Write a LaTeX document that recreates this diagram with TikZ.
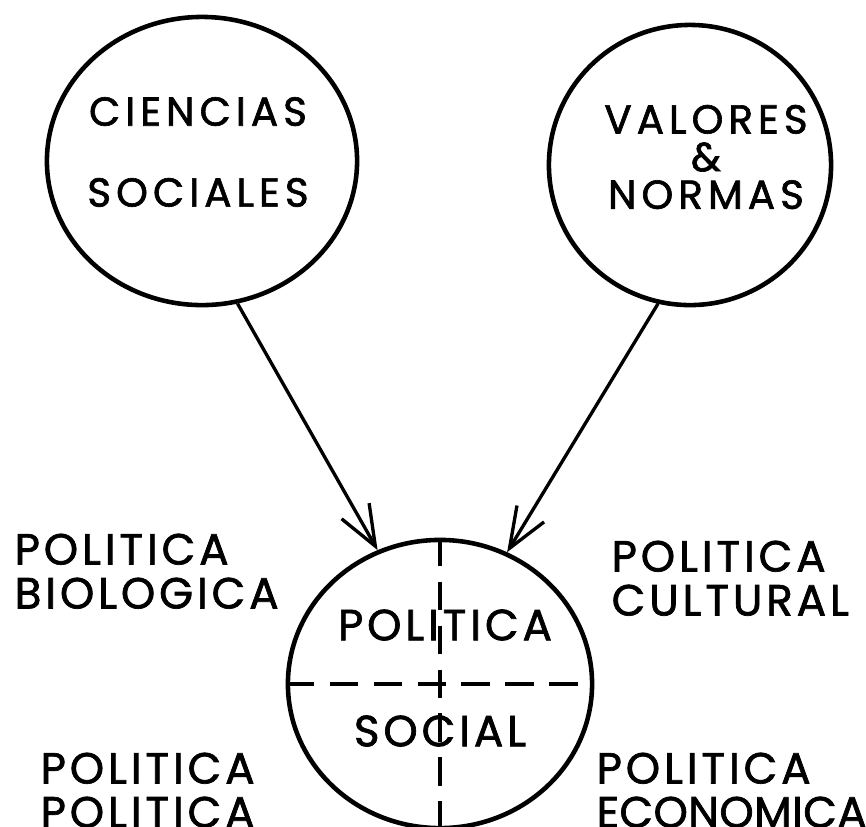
\documentclass[tikz,border=0pt]{standalone}
\usepackage{fontspec}
\setmainfont{Poppins}[FakeBold=1.6]
\usetikzlibrary{arrows.meta,shapes.geometric}

\begin{document}
\begin{tikzpicture}[x=0.01cm,y=-0.01cm,
  ring/.style={draw,ellipse,line width=1.3pt,inner sep=0pt},
  big/.style={font=\addfontfeatures{LetterSpace=9}\fontsize{12.4}{12.5}\selectfont,inner sep=0pt,align=left},
  small/.style={font=\addfontfeatures{LetterSpace=12.5}\fontsize{11.5}{23}\selectfont,inner sep=0pt,align=center},
  arr/.style={-{Straight Barb[length=11.5pt,width=9pt]},line width=0.95pt},
  cut/.style={dash pattern=on 8pt off 4.5pt,line width=1.2pt}]
\useasboundingbox (0,0) rectangle (866,826);

% the three circles
\node[ring,minimum width=3.1cm,minimum height=2.88cm] (cs) at (202,161) {};
\node[ring,minimum width=2.82cm,minimum height=2.8cm] (vn) at (690,165) {};
\node[ring,minimum width=3.04cm,minimum height=2.88cm] (pol) at (440,684) {};

\draw[cut] (pol.west) -- (pol.east);
\draw[cut] (pol.north) -- (pol.south);

\node[small] (cst) at (198,152) {CIENCIAS\\SOCIALES};
\node[small,font=\addfontfeatures{LetterSpace=12.5}\fontsize{11.5}{10.7}\selectfont] (vnt) at (706,157) {VALORES\\\&\\NORMAS};
\node[big] (polt) at (445,625) {POLITICA};
\node[big] (soct) at (440,731) {SOCIAL};

% labels round the bottom circle
\node[big,anchor=north west] (bio) at (14,533) {POLITICA\\BIOLOGICA};
\node[big,anchor=north west] (cul) at (611,540) {POLITICA\\CULTURAL};
\node[big,anchor=north west] (pp) at (40,752) {POLITICA\\POLITICA};
\node[big,anchor=north west] (eco) at (596,752) {POLITICA\\\addfontfeatures{LetterSpace=1}ECONOMICA};

\draw[arr] (cs.-76) -- (pol.115);
\draw[arr] (vn.-103) -- (pol.63);
\end{tikzpicture}
\end{document}
